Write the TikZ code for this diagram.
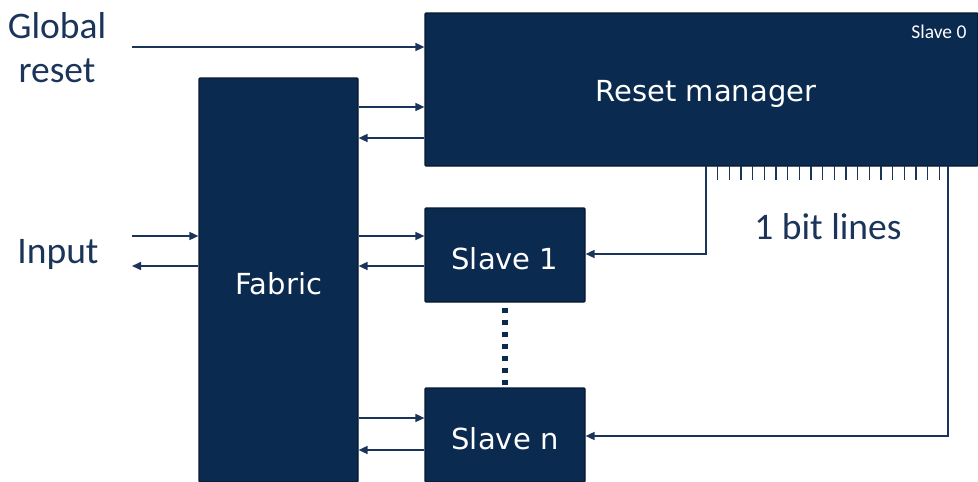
\documentclass[tikz,border=0pt]{standalone}
\usepackage{fontspec}
\setmainfont{Carlito}
\newfontfamily\boxfont{DejaVu Sans}
\usetikzlibrary{arrows.meta}
\definecolor{navy}{HTML}{0B2A4F}
\definecolor{navyline}{HTML}{06182F}
\definecolor{wire}{HTML}{1B355A}
\tikzset{
  block/.style={draw=navyline, line width=1.2pt, fill=navy, rounded corners=1pt, inner sep=0pt},
  boxtext/.style={text=white, font=\boxfont\fontsize{29}{34}\selectfont},
  lbl/.style={text=wire, inner sep=0pt, align=center, font=\fontsize{37.5}{44}\selectfont},
  arr/.style={draw=wire, line width=1.6pt, -{Triangle[length=9pt,width=8pt]}},
  wireline/.style={draw=wire, line width=1.4pt},
}
\begin{document}
\begin{tikzpicture}[x=1pt, y=-1pt]
\useasboundingbox (0,0) rectangle (978,482);
% blocks
\node[block, minimum width=553pt, minimum height=153pt] (rm) at (701.5,89.5) {};
\node[boxtext] (rmtxt) at (706,94) {Reset manager};
\node[text=white, anchor=north east, font=\fontsize{19.5}{22}\selectfont] (s0) at (970,21) {Slave 0};
\node[block, minimum width=159pt, minimum height=404pt] (fabric) at (278.5,280) {};
\node[boxtext] (fabtxt) at (279,284) {Fabric};
\node[block, minimum width=160pt, minimum height=94pt] (s1) at (505,255) {};
\node[boxtext] (s1txt) at (505,259) {Slave 1};
\node[block, minimum width=160pt, minimum height=94pt] (sn) at (505,435) {};
\node[boxtext] (sntxt) at (505,439) {Slave n};
% outside labels
\node[lbl] (glob) at (57,48) {Global\\reset};
\node[lbl] (inp) at (58,254) {Input};
\node[lbl] (bits) at (828,227) {1 bit lines};
% free ends
\coordinate (gr) at (132,47);
\coordinate (in1) at (132,236);
\coordinate (in2) at (132,266);
\coordinate (b1) at (706,166);
\coordinate (bn) at (948,166);
% global reset
\draw[arr] (gr) -- (gr -| rm.west);
% input
\draw[arr] (in1) -- (in1 -| fabric.west);
\draw[arr] (in2 -| fabric.west) -- (in2);
% fabric <-> reset manager
\coordinate (f1) at (0,107);
\coordinate (f2) at (0,138);
\draw[arr] (f1 -| fabric.east) -- (f1 -| rm.west);
\draw[arr] (f2 -| rm.west) -- (f2 -| fabric.east);
% fabric <-> slave 1
\draw[arr] (in1 -| fabric.east) -- (in1 -| s1.west);
\draw[arr] (in2 -| s1.west) -- (in2 -| fabric.east);
% fabric <-> slave n
\coordinate (n1) at (0,418);
\coordinate (n2) at (0,450);
\draw[arr] (n1 -| fabric.east) -- (n1 -| sn.west);
\draw[arr] (n2 -| sn.west) -- (n2 -| fabric.east);
% dotted continuation between slaves
\draw[navy, line width=5.5pt, dash pattern=on 5.5pt off 6.5pt]
  ([yshift=7pt]s1.south) -- ([yshift=-7pt]sn.north);
% one-bit reset lines
\foreach \i in {0,...,19}
  \draw[wireline] (717.7+\i*11.67,166) -- ++(0,14);
\coordinate (b1e) at (0,254);
\coordinate (bne) at (0,436);
\draw[wireline, arr] (b1) |- (b1e -| s1.east);
\draw[wireline, arr] (bn) |- (bne -| sn.east);
\end{tikzpicture}
\end{document}
